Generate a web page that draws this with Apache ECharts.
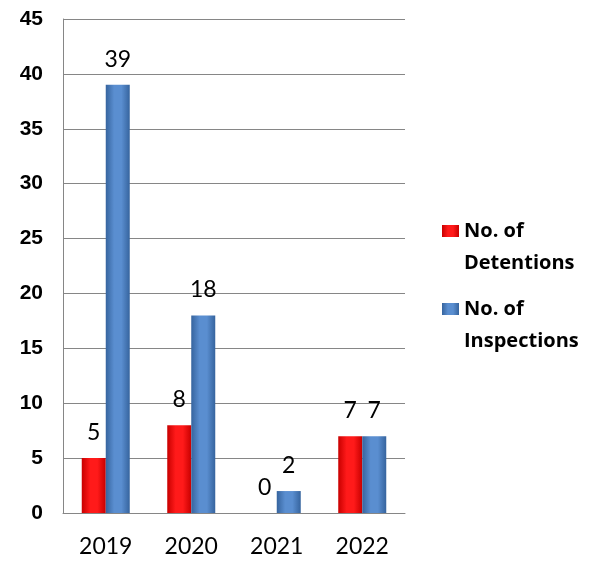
<!DOCTYPE html>
<html>
<head>
<meta charset="utf-8">
<script src="https://cdn.jsdelivr.net/npm/echarts@6/dist/echarts.min.js"></script>
<style>
  html, body { margin: 0; padding: 0; background: #fff; }
  #chart { width: 591px; height: 562px; }
</style>
</head>
<body>
<div id="chart"></div>
<script>
// data
var years = ['2019', '2020', '2021', '2022']
var detentions = [5, 8, 0, 7]
var inspections = [39, 18, 2, 7]
var yTicks = [0, 5, 10, 15, 20, 25, 30, 35, 40, 45]

var chart = echarts.init(document.getElementById('chart'))

function barGradient(edge, mid) {
  return new echarts.graphic.LinearGradient(0, 0, 1, 0, [
    { offset: 0, color: edge },
    { offset: 0.35, color: mid },
    { offset: 0.65, color: mid },
    { offset: 1, color: edge }
  ])
}

var labelOption = {
  show: true,
  position: 'top',
  distance: 14,
  color: '#000',
  fontFamily: 'Lato',
  fontSize: 23
}

// legend square sits at the top of a tall box so it lines up with the first text line
var legendIcon = 'path://M0,0H17V12H0Z M0,44L0.01,44Z'

var option = {
  animation: false,
  grid: { left: 63, right: 186, top: 19, bottom: 49 },
  legend: {
    orient: 'vertical',
    left: 442,
    top: 215,
    padding: 0,
    itemWidth: 17,
    itemHeight: 44,
    itemGap: 14,
    icon: legendIcon,
    textStyle: {
      fontFamily: 'Open Sans',
      fontWeight: 'bold',
      fontSize: 20,
      lineHeight: 32,
      color: '#000'
    },
    data: ['No. of\nDetentions', 'No. of\nInspections']
  },
  xAxis: {
    type: 'category',
    data: years,
    axisTick: { show: false },
    axisLine: { lineStyle: { color: '#868686' } },
    axisLabel: { color: '#000', fontFamily: 'Lato', fontSize: 23, margin: 22 }
  },
  yAxis: {
    type: 'value',
    min: yTicks[0],
    max: yTicks[yTicks.length - 1],
    interval: 5,
    axisLine: { show: true, lineStyle: { color: '#868686' } },
    axisTick: { show: false },
    splitLine: { lineStyle: { color: '#868686' } },
    axisLabel: {
      color: '#000',
      fontFamily: 'Liberation Sans',
      fontWeight: 'bold',
      fontSize: 21,
      margin: 20
    }
  },
  series: [
    {
      name: 'No. of\nDetentions',
      type: 'bar',
      barWidth: 24,
      barGap: '0%',
      label: labelOption,
      itemStyle: { color: barGradient('#c80000', '#ff1a1a') },
      data: detentions
    },
    {
      name: 'No. of\nInspections',
      type: 'bar',
      barWidth: 24,
      label: labelOption,
      itemStyle: { color: barGradient('#36649e', '#5a8ed0') },
      data: inspections
    }
  ]
}

chart.setOption(option)
</script>
</body>
</html>
